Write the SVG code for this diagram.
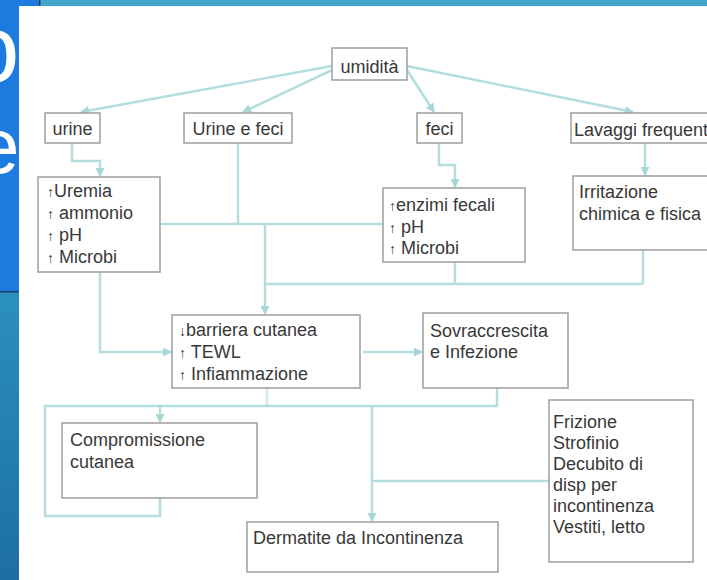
<svg xmlns="http://www.w3.org/2000/svg" width="707" height="580" viewBox="0 0 707 580">
<defs>
<linearGradient id="tealStrip" x1="0" y1="0" x2="0" y2="1">
<stop offset="0" stop-color="#2b90bf"/>
<stop offset="1" stop-color="#1d6fa3"/>
</linearGradient>
<marker id="arr" viewBox="0 0 10 10" refX="9" refY="5" markerWidth="9" markerHeight="9" markerUnits="userSpaceOnUse" orient="auto">
<path d="M0,0 L10,5 L0,10 z" fill="#a9d6d6"/>
</marker>
</defs>
<style>
.box{fill:#ffffff;stroke:#a3a3a3;stroke-width:1.6}
.t{font-family:"Liberation Sans",Arial,Helvetica,sans-serif;font-size:18px;fill:#383838}
.c{text-anchor:middle}
.ar{font-size:14px}
.con{fill:none;stroke:#b4dede;stroke-width:2.5}
.big{font-family:"Liberation Sans",Arial,sans-serif;fill:#ffffff}
</style>
<rect x="0" y="0" width="707" height="580" fill="#ffffff"/>
<rect x="0" y="0" width="19" height="292" fill="#1d7be0"/>
<rect x="19" y="0" width="21" height="6" fill="#1d7be0"/>
<rect x="40" y="0" width="667" height="6" fill="#42a6cc"/>
<rect x="39" y="0" width="1.5" height="6" fill="#1b3f66"/>
<rect x="0" y="292" width="19" height="288" fill="url(#tealStrip)"/>
<rect x="0" y="291" width="19" height="1.5" fill="#1b3f66"/>
<text class="big" x="-34" y="82" font-size="96">o</text>
<text class="big" x="-24" y="173" font-size="78">e</text>

<g id="connectors">
<path class="con" d="M332,66 L81,112" marker-end="url(#arr)"/>
<path class="con" d="M332,70 L243,112" marker-end="url(#arr)"/>
<path class="con" d="M407,70 L434,112" marker-end="url(#arr)"/>
<path class="con" d="M407,66 L633,112" marker-end="url(#arr)"/>
<path class="con" d="M72,143 V161 H100 V176" marker-end="url(#arr)"/>
<path class="con" d="M439,143 V165 H455 V187" marker-end="url(#arr)"/>
<path class="con" d="M645,143 V175" marker-end="url(#arr)"/>
<path class="con" d="M238,143 V224"/>
<path class="con" d="M160,224 H383"/>
<path class="con" d="M265,224 V314" marker-end="url(#arr)"/>
<path class="con" d="M455,262 V284"/>
<path class="con" d="M643,250 V284"/>
<path class="con" d="M265,284 H643"/>
<path class="con" d="M100,272 V352 H171" marker-end="url(#arr)"/>
<path class="con" d="M363,352 H422" marker-end="url(#arr)"/>
<path class="con" d="M497,388 V406 H45 V516 H160 V498"/>
<path class="con" d="M160,406 V422" marker-end="url(#arr)"/>
<path class="con" d="M267,388 V406" stroke-opacity="0.6"/>
<path class="con" d="M372,406 V521" marker-end="url(#arr)"/>
<path class="con" d="M372,481 H549"/>
</g>

<g id="umidita">
<rect class="box" x="332" y="48" width="75" height="32"/>
<text class="t c" x="369.5" y="73">umidità</text>
</g>
<g id="urine">
<rect class="box" x="45" y="113" width="55" height="30"/>
<text class="t c" x="72.5" y="135">urine</text>
</g>
<g id="urine-feci">
<rect class="box" x="184" y="113" width="108" height="30"/>
<text class="t c" x="238" y="135">Urine e feci</text>
</g>
<g id="feci">
<rect class="box" x="417" y="113" width="45" height="30"/>
<text class="t c" x="439.5" y="135">feci</text>
</g>
<g id="lavaggi">
<rect class="box" x="571" y="113" width="150" height="30"/>
<text class="t" x="574" y="136">Lavaggi frequent</text>
</g>
<g id="uremia">
<rect class="box" x="38" y="177" width="122" height="95"/>
<text class="t" x="47" y="197"><tspan class="ar">↑</tspan>Uremia</text>
<text class="t" x="47" y="219"><tspan class="ar">↑</tspan> ammonio</text>
<text class="t" x="47" y="241"><tspan class="ar">↑</tspan> pH</text>
<text class="t" x="47" y="263"><tspan class="ar">↑</tspan> Microbi</text>
</g>
<g id="enzimi">
<rect class="box" x="383" y="188" width="142" height="74"/>
<text class="t" x="389" y="211"><tspan class="ar">↑</tspan>enzimi fecali</text>
<text class="t" x="389" y="233"><tspan class="ar">↑</tspan> pH</text>
<text class="t" x="389" y="254"><tspan class="ar">↑</tspan> Microbi</text>
</g>
<g id="irritazione">
<rect class="box" x="573" y="176" width="140" height="74"/>
<text class="t" x="579" y="198">Irritazione</text>
<text class="t" x="579" y="220">chimica e fisica</text>
</g>
<g id="barriera">
<rect class="box" x="172" y="315" width="188" height="73"/>
<text class="t" x="179" y="336"><tspan class="ar">↓</tspan>barriera cutanea</text>
<text class="t" x="179" y="358"><tspan class="ar">↑</tspan> TEWL</text>
<text class="t" x="179" y="380"><tspan class="ar">↑</tspan> Infiammazione</text>
</g>
<g id="sovraccrescita">
<rect class="box" x="423" y="313" width="145" height="75"/>
<text class="t" x="430" y="337">Sovraccrescita</text>
<text class="t" x="430" y="358">e Infezione</text>
</g>
<g id="compromissione">
<rect class="box" x="62" y="423" width="195" height="75"/>
<text class="t" x="70" y="446">Compromissione</text>
<text class="t" x="70" y="468">cutanea</text>
</g>
<g id="frizione">
<rect class="box" x="549" y="400" width="144" height="162"/>
<text class="t" x="553" y="428">Frizione</text>
<text class="t" x="553" y="449">Strofinio</text>
<text class="t" x="553" y="470">Decubito di</text>
<text class="t" x="553" y="491">disp per</text>
<text class="t" x="553" y="512">incontinenza</text>
<text class="t" x="553" y="533">Vestiti, letto</text>
</g>
<g id="dermatite">
<rect class="box" x="247" y="522" width="251" height="50"/>
<text class="t" x="253" y="544">Dermatite da Incontinenza</text>
</g>
</svg>
